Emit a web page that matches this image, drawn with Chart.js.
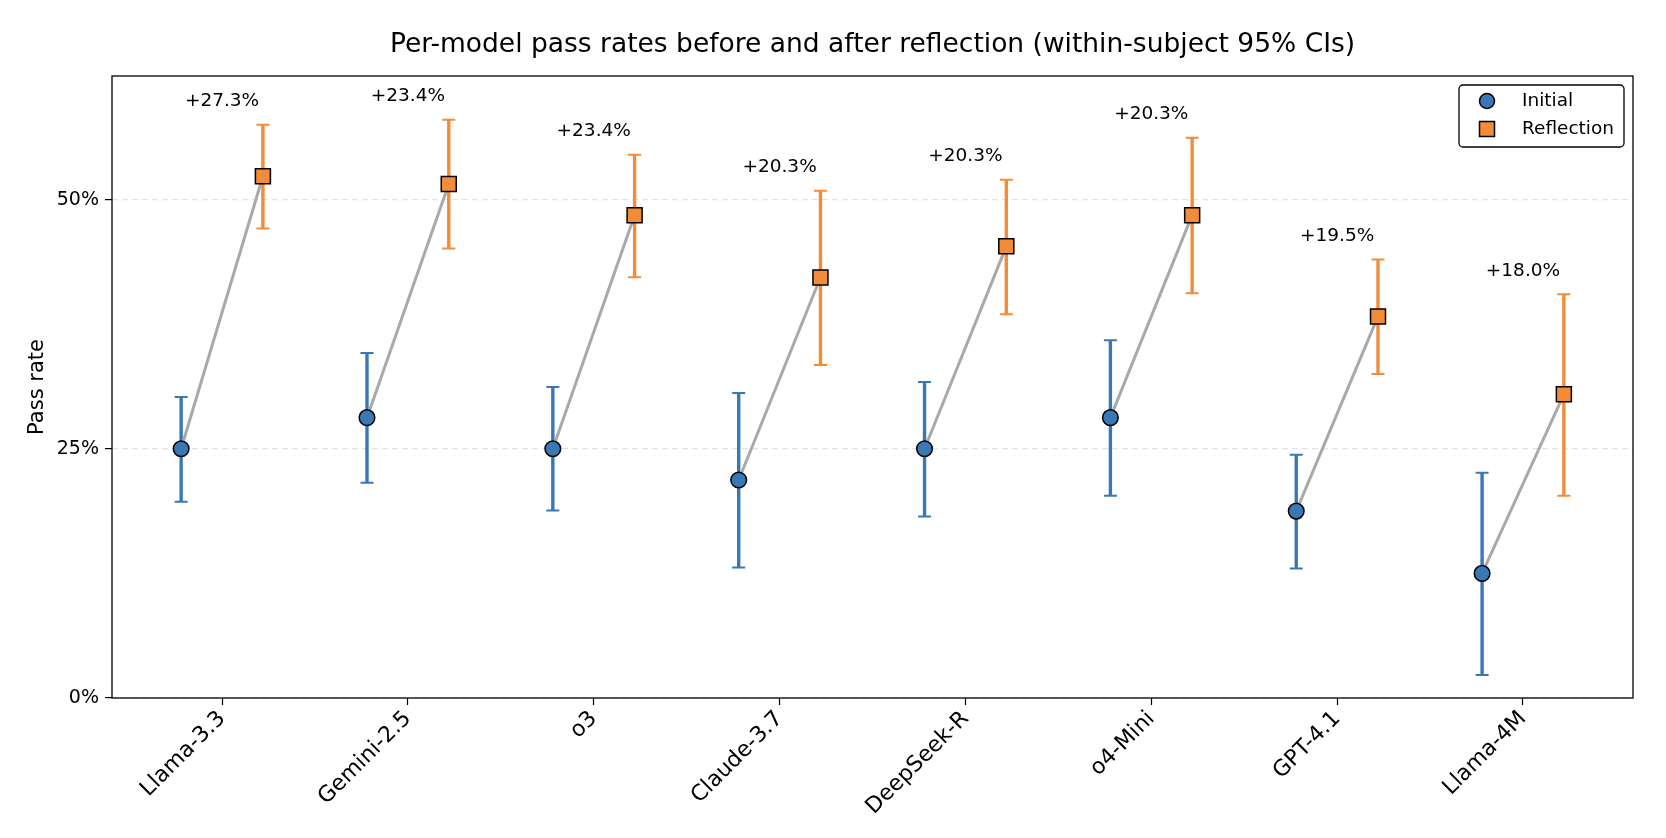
<!DOCTYPE html>
<html>
<head>
<meta charset="utf-8">
<script src="https://cdn.jsdelivr.net/npm/chart.js@4.4.1/dist/chart.umd.min.js"></script>
<style>
  html, body { margin: 0; padding: 0; background: #ffffff; }
  #wrap { width: 1666px; height: 838px; }
</style>
</head>
<body>
<div id="wrap"><canvas id="c" width="1666" height="838"></canvas></div>
<script>
// ---- data ----
const models = ['Llama-3.3', 'Gemini-2.5', 'o3', 'Claude-3.7', 'DeepSeek-R', 'o4-Mini', 'GPT-4.1', 'Llama-4M'];
const initialRate = [0.25, 0.28125, 0.25, 0.21875, 0.25, 0.28125, 0.1875, 0.125];
const initialLow  = [0.197, 0.216, 0.188, 0.131, 0.182, 0.203, 0.130, 0.023];
const initialHigh = [0.302, 0.346, 0.312, 0.306, 0.317, 0.359, 0.244, 0.226];
const reflectionRate = [0.5234, 0.5156, 0.4844, 0.4219, 0.4531, 0.4844, 0.3828, 0.3047];
const reflectionLow  = [0.471, 0.451, 0.422, 0.334, 0.385, 0.406, 0.325, 0.203];
const reflectionHigh = [0.575, 0.580, 0.545, 0.509, 0.520, 0.562, 0.440, 0.405];
const deltaLabels = ['+27.3%', '+23.4%', '+23.4%', '+20.3%', '+20.3%', '+20.3%', '+19.5%', '+18.0%'];
const yTickValues = [0, 0.25, 0.5];
const seriesNames = ['Initial', 'Reflection'];
const titleText = 'Per-model pass rates before and after reflection (within-subject 95% CIs)';
const yAxisTitle = 'Pass rate';

// ---- style ----
const OFFSET = 0.22;
const BLUE = '#3a78b5';
const ORANGE = '#f28c38';
const GREY = '#a9a9a9';
const FONT = "'DejaVu Sans', sans-serif";
Chart.defaults.color = '#000';
Chart.defaults.font.family = FONT;

const initialPts = models.map((m, i) => ({ x: i - OFFSET, y: initialRate[i] }));
const reflectionPts = models.map((m, i) => ({ x: i + OFFSET, y: reflectionRate[i] }));
const linkPts = [];
models.forEach((m, i) => {
  linkPts.push({ x: i - OFFSET, y: initialRate[i] });
  linkPts.push({ x: i + OFFSET, y: reflectionRate[i] });
  linkPts.push({ x: i + 0.5, y: null });
});

const errorBars = {
  id: 'errorBars',
  beforeDatasetsDraw(chart) {
    const { ctx, scales: { x, y } } = chart;
    const groups = [
      { lo: initialLow, hi: initialHigh, off: -OFFSET, color: BLUE },
      { lo: reflectionLow, hi: reflectionHigh, off: OFFSET, color: ORANGE }
    ];
    ctx.save();
    groups.forEach(g => {
      ctx.strokeStyle = g.color;
      models.forEach((m, i) => {
        const px = x.getPixelForValue(i + g.off);
        const y0 = y.getPixelForValue(g.lo[i]);
        const y1 = y.getPixelForValue(g.hi[i]);
        ctx.lineWidth = 3.4;
        ctx.beginPath(); ctx.moveTo(px, y0); ctx.lineTo(px, y1); ctx.stroke();
        ctx.lineWidth = 2;
        ctx.beginPath();
        ctx.moveTo(px - 6.5, y0); ctx.lineTo(px + 6.5, y0);
        ctx.moveTo(px - 6.5, y1); ctx.lineTo(px + 6.5, y1);
        ctx.stroke();
      });
    });
    ctx.restore();
  }
};

const decorations = {
  id: 'decorations',
  afterDraw(chart) {
    const { ctx, chartArea: a, scales: { x, y } } = chart;
    ctx.save();
    // spines
    ctx.strokeStyle = '#000';
    ctx.lineWidth = 1.3;
    ctx.strokeRect(a.left, a.top, a.right - a.left, a.bottom - a.top);
    // title
    ctx.fillStyle = '#000';
    ctx.font = '26.5px ' + FONT;
    ctx.textAlign = 'center';
    ctx.textBaseline = 'middle';
    ctx.fillText(titleText, (a.left + a.right) / 2, 45);
    // delta labels
    ctx.font = '18.5px ' + FONT;
    ctx.textBaseline = 'alphabetic';
    models.forEach((m, i) => {
      const top = Math.max(initialHigh[i], reflectionHigh[i]);
      ctx.fillText(deltaLabels[i], x.getPixelForValue(i), y.getPixelForValue(top + 0.0187));
    });
    // legend
    const bx = a.right - 9 - 165, by = a.top + 9, bw = 165, bh = 62;
    ctx.beginPath();
    ctx.roundRect(bx, by, bw, bh, 4);
    ctx.fillStyle = '#fff';
    ctx.fill();
    ctx.strokeStyle = '#000';
    ctx.lineWidth = 1.3;
    ctx.stroke();
    const rows = [by + 16, by + 44];
    ctx.beginPath();
    ctx.arc(bx + 28, rows[0], 7.5, 0, Math.PI * 2);
    ctx.fillStyle = BLUE; ctx.fill();
    ctx.lineWidth = 1.5; ctx.strokeStyle = '#000'; ctx.stroke();
    ctx.beginPath();
    ctx.rect(bx + 28 - 7.5, rows[1] - 7.5, 15, 15);
    ctx.fillStyle = ORANGE; ctx.fill(); ctx.stroke();
    ctx.fillStyle = '#000';
    ctx.font = '18.5px ' + FONT;
    ctx.textAlign = 'left';
    ctx.textBaseline = 'middle';
    ctx.fillText(seriesNames[0], bx + 63, rows[0]);
    ctx.fillText(seriesNames[1], bx + 63, rows[1]);
    ctx.restore();
  }
};

new Chart(document.getElementById('c'), {
  type: 'scatter',
  data: {
    datasets: [
      {
        label: seriesNames[0], data: initialPts, order: 0,
        pointStyle: 'circle', pointRadius: 7.8, pointBackgroundColor: BLUE,
        pointBorderColor: '#000', pointBorderWidth: 1.5, showLine: false
      },
      {
        label: seriesNames[1], data: reflectionPts, order: 0,
        pointStyle: 'rect', pointRadius: 10.6, pointBackgroundColor: ORANGE,
        pointBorderColor: '#000', pointBorderWidth: 1.5, showLine: false
      },
      {
        label: 'link', data: linkPts, order: 1, showLine: true, spanGaps: false,
        borderColor: GREY, borderWidth: 3, pointRadius: 0
      }
    ]
  },
  options: {
    responsive: false,
    animation: false,
    events: [],
    devicePixelRatio: 1,
    layout: { padding: { top: 76, right: 33, left: 0, bottom: 0 } },
    plugins: { legend: { display: false }, tooltip: { enabled: false } },
    scales: {
      x: {
        type: 'linear',
        min: -0.592, max: 7.592,
        afterFit(s) { s.height = 140; },
        afterBuildTicks(s) { s.ticks = models.map((m, i) => ({ value: i })); },
        ticks: {
          autoSkip: false, minRotation: 45, maxRotation: 45,
          font: { size: 22 }, color: '#000', padding: 1,
          callback: (v) => models[v]
        },
        grid: { drawOnChartArea: false, tickColor: '#000', tickLength: 7, tickWidth: 1.2 },
        border: { display: false }
      },
      y: {
        type: 'linear',
        min: 0, max: 0.624,
        afterFit(s) { s.width = 112; },
        afterBuildTicks(s) { s.ticks = yTickValues.map(v => ({ value: v })); },
        ticks: {
          font: { size: 19 }, color: '#000', padding: 6,
          callback: (v) => Math.round(v * 100) + '%'
        },
        grid: { color: '#e3e3e3', lineWidth: 1.2, tickColor: '#000', tickLength: 7, tickWidth: 1.2, tickBorderDash: [] },
        border: { display: false, dash: [6, 4] },
        title: { display: true, text: yAxisTitle, font: { size: 21 }, color: '#000', padding: { top: 25, bottom: 0 } }
      }
    }
  },
  plugins: [errorBars, decorations]
});
</script>
</body>
</html>
